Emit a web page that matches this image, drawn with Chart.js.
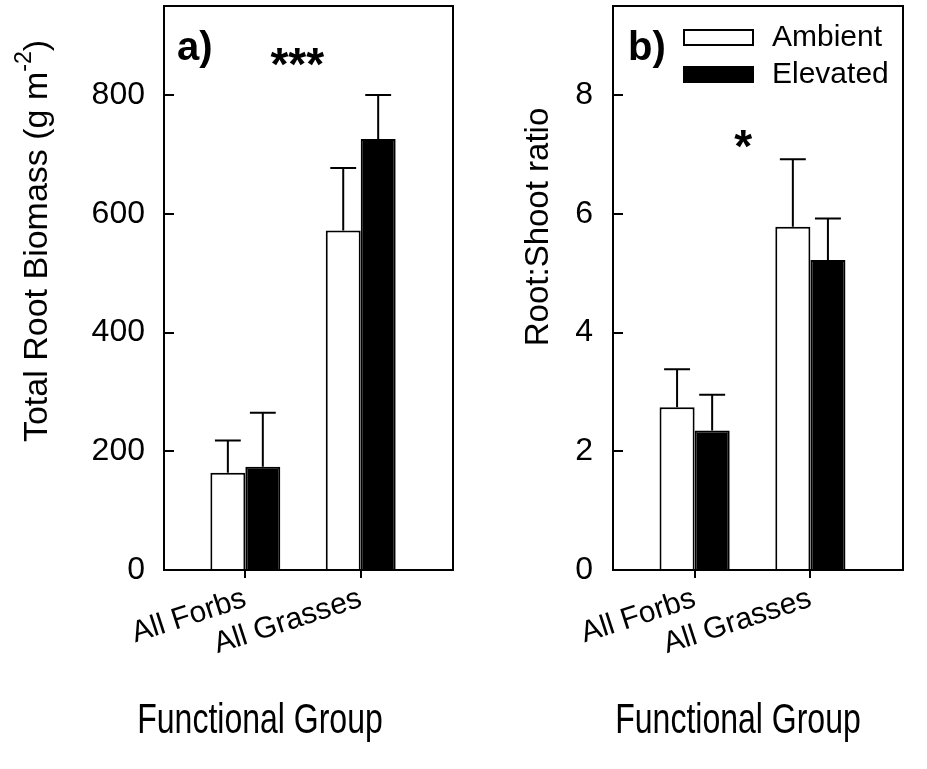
<!DOCTYPE html>
<html>
<head>
<meta charset="utf-8">
<title>Root biomass and root:shoot ratio by functional group</title>
<script src="https://cdn.jsdelivr.net/npm/chart.js@4.4.1/dist/chart.umd.min.js"></script>
<style>
  html, body { margin: 0; padding: 0; background: #fff; overflow: hidden; }
  #wrap { position: relative; width: 927px; height: 769px; }
  canvas { position: absolute; top: 0; }
  #rootMass { left: 0; }
  #rootShoot { left: 470px; }
</style>
</head>
<body>
<div id="wrap">
  <canvas id="rootMass" width="470" height="769"></canvas>
  <canvas id="rootShoot" width="457" height="769"></canvas>
</div>
<script>
// Functional groups and CO2 treatments
const groups = ['All Forbs', 'All Grasses'];
const treatments = ['Ambient', 'Elevated'];

// Total root biomass (g m-2): means and standard errors
const biomassAmbient = [164, 572];
const biomassElevated = [174, 726];
const biomassAmbientSE = [54, 105];
const biomassElevatedSE = [91, 74];

// Root:shoot ratio: means and standard errors
const ratioAmbient = [2.74, 5.78];
const ratioElevated = [2.35, 5.22];
const ratioAmbientSE = [0.64, 1.14];
const ratioElevatedSE = [0.60, 0.70];

// Y-axis tick labels
const biomassTicks = [0, 200, 400, 600, 800];
const ratioTicks = [0, 2, 4, 6, 8];

const FONT = '"Liberation Sans", Arial, Helvetica, sans-serif';

// Group index on a linear x scale so the panel can extend asymmetrically
const points = vals => vals.map((v, i) => ({ x: i, y: v }));

// Error bars, the closing frame lines, panel letter, significance stars,
// legend and axis titles
const figureNotes = {
  id: 'figureNotes',
  afterDatasetsDraw(chart, args, opts) {
    const { ctx, chartArea: a, scales: { x, y } } = chart;
    ctx.save();
    ctx.strokeStyle = '#000';
    ctx.fillStyle = '#000';
    ctx.lineWidth = 2;
    ctx.lineCap = 'butt';

    // standard error whiskers (upper only)
    chart.data.datasets.forEach((ds, i) => {
      const meta = chart.getDatasetMeta(i);
      meta.data.forEach((bar, j) => {
        const top = y.getPixelForValue(ds.data[j].y + ds.errors[j]);
        const half = bar.width * 0.37;
        ctx.beginPath();
        ctx.moveTo(bar.x, bar.y);
        ctx.lineTo(bar.x, top);
        ctx.moveTo(bar.x - half, top);
        ctx.lineTo(bar.x + half, top);
        ctx.stroke();
      });
    });

    // top and right frame
    ctx.beginPath();
    ctx.moveTo(a.left - 1, a.top);
    ctx.lineTo(a.right, a.top);
    ctx.lineTo(a.right, a.bottom + 1);
    ctx.stroke();

    // panel letter
    ctx.font = 'bold 40px ' + FONT;
    ctx.textAlign = 'left';
    ctx.textBaseline = 'alphabetic';
    ctx.fillText(opts.letter, a.left + opts.letterDx, a.top + 54);

    // significance marker
    ctx.font = 'bold 46px ' + FONT;
    ctx.textAlign = 'center';
    ctx.fillText(opts.stars.text, x.getPixelForValue(opts.stars.x), y.getPixelForValue(opts.stars.y));

    // legend
    if (opts.legend) {
      const bx = a.left + 70, bw = 71;
      chart.data.datasets.forEach((ds, i) => {
        const by = a.top + 23 + i * 37;
        ctx.fillStyle = ds.backgroundColor;
        ctx.fillRect(bx, by, bw, 17);
        ctx.strokeStyle = ds.borderColor;
        ctx.strokeRect(bx + 1, by + 1, bw - 2, 15);
        ctx.fillStyle = '#000';
        ctx.font = '30px ' + FONT;
        ctx.textAlign = 'left';
        ctx.textBaseline = 'middle';
        ctx.fillText(ds.label, bx + bw + 18, by + 9);
      });
    }

    // y-axis title (rotated), with optional superscript
    const yt = opts.yTitle;
    ctx.save();
    ctx.translate(yt.x, yt.y);
    ctx.rotate(-Math.PI / 2);
    ctx.textBaseline = 'middle';
    ctx.textAlign = 'left';
    const mainFont = yt.size + 'px ' + FONT, supFont = '23px ' + FONT;
    ctx.font = mainFont;
    const w1 = ctx.measureText(yt.text).width;
    const w3 = yt.after ? ctx.measureText(yt.after).width : 0;
    ctx.font = supFont;
    const w2 = yt.sup ? ctx.measureText(yt.sup).width : 0;
    let cx = -(w1 + w2 + w3) / 2;
    ctx.font = mainFont;
    ctx.fillText(yt.text, cx, 0);
    cx += w1;
    if (yt.sup) {
      ctx.font = supFont;
      ctx.fillText(yt.sup, cx, -13);
      cx += w2;
      ctx.font = mainFont;
      ctx.fillText(yt.after, cx, 0);
    }
    ctx.restore();

    // x-axis title, set in a tall narrow face
    ctx.save();
    ctx.translate(opts.xTitle.x, opts.xTitle.y);
    ctx.scale(1, 1.3);
    ctx.font = '32px ' + FONT;
    ctx.textAlign = 'center';
    ctx.textBaseline = 'alphabetic';
    ctx.fillText(opts.xTitle.text, 0, 0);
    ctx.restore();

    ctx.restore();
  }
};

function xAxis() {
  return {
    type: 'linear',
    min: -0.705,
    max: 1.80,
    offset: false,
    afterBuildTicks: s => { s.ticks = groups.map((_, i) => ({ value: i })); },
    afterFit: s => { s.height = 199; },
    grid: { offset: false, drawOnChartArea: false, color: '#000', lineWidth: 2, tickLength: 8 },
    border: { color: '#000', width: 2 },
    ticks: {
      color: '#000',
      font: { family: FONT, size: 30 },
      minRotation: 18,
      maxRotation: 18,
      autoSkip: false,
      padding: 3,
      callback: v => groups[v]
    }
  };
}

function yAxis(max, tickValues, width, pad) {
  return {
    type: 'linear',
    min: 0,
    max: max,
    afterBuildTicks: s => { s.ticks = tickValues.map(v => ({ value: v })); },
    // the frame runs to the canvas edge, so no extra room above the top label
    afterFit: s => { s.width = width; s.paddingTop = 0; s.paddingBottom = 0; },
    grid: { drawOnChartArea: false, color: '#000', lineWidth: 2, tickLength: -10 },
    border: { color: '#000', width: 2 },
    ticks: { color: '#000', font: { family: FONT, size: 32 }, padding: pad }
  };
}

function makeChart(id, amb, ambSE, elev, elevSE, yMax, yTicks, yWidth, yPad, padRight, notes) {
  return new Chart(document.getElementById(id), {
    type: 'bar',
    data: {
      datasets: [
        { label: treatments[0], data: points(amb), errors: ambSE,
          backgroundColor: '#ffffff', borderColor: '#000000', borderWidth: 2 },
        { label: treatments[1], data: points(elev), errors: elevSE,
          backgroundColor: '#000000', borderColor: '#000000', borderWidth: 2 }
      ]
    },
    options: {
      responsive: false,
      animation: false,
      devicePixelRatio: 1,
      categoryPercentage: 0.606,
      barPercentage: 1.0,
      layout: { padding: { top: 6, right: padRight, left: 0, bottom: 0 } },
      scales: { x: xAxis(), y: yAxis(yMax, yTicks, yWidth, yPad) },
      plugins: {
        legend: { display: false },
        tooltip: { enabled: false },
        figureNotes: notes
      }
    },
    plugins: [figureNotes]
  });
}

makeChart('rootMass', biomassAmbient, biomassAmbientSE, biomassElevated, biomassElevatedSE,
  950, biomassTicks, 164, 29, 17, {
    letter: 'a)', letterDx: 13,
    stars: { text: '***', x: 0.45, y: 825 },
    legend: false,
    yTitle: { x: 38, y: 241, size: 34, text: 'Total Root Biomass (g m', sup: '-2', after: ')' },
    xTitle: { text: 'Functional Group', x: 260, y: 733 }
  });

makeChart('rootShoot', ratioAmbient, ratioAmbientSE, ratioElevated, ratioElevatedSE,
  9.5, ratioTicks, 143, 30, 24, {
    letter: 'b)', letterDx: 15,
    stars: { text: '*', x: 0.42, y: 6.87 },
    legend: true,
    yTitle: { x: 69, y: 227, size: 33, text: 'Root:Shoot ratio' },
    xTitle: { text: 'Functional Group', x: 268, y: 733 }
  });
</script>
</body>
</html>
